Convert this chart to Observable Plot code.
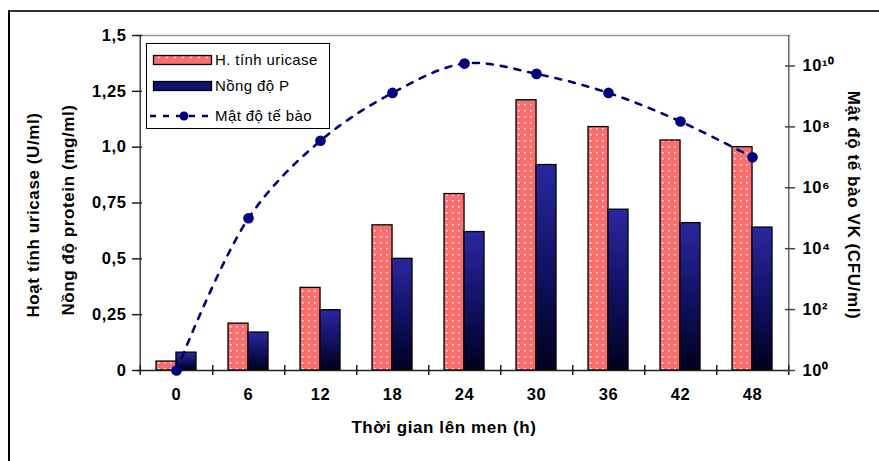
<!DOCTYPE html>
<html><head><meta charset="utf-8">
<script src="https://cdn.jsdelivr.net/npm/d3@7"></script>
<script src="https://cdn.jsdelivr.net/npm/@observablehq/plot@0.6"></script>
<style>
body{margin:0;background:#fff;font-family:"Liberation Sans",Arial,sans-serif;}
#wrap{position:relative;width:879px;height:461px;overflow:hidden;background:#fff;}
#chart{position:absolute;left:0;top:0;}
#chart text{letter-spacing:0.6px;}
#border{position:absolute;left:8px;top:10px;width:900px;height:520px;border-left:2px solid #000;border-top:2px solid #333;}
#legend{position:absolute;left:146px;top:43px;width:182px;height:84px;border:1px solid #000;background:#fff;font-size:15px;letter-spacing:0.4px;color:#000;}
#legend span{position:absolute;left:68px;white-space:nowrap;line-height:20px;}
#legend svg{position:absolute;left:0;top:0;}
</style></head><body>
<div id="wrap"><div id="border"></div><div id="chart"></div><div id="legend"></div></div>
<script>
// ---- data ----
const times = ["0", "6", "12", "18", "24", "30", "36", "42", "48"];
const uricase = [0.04, 0.21, 0.37, 0.65, 0.79, 1.21, 1.09, 1.03, 1.00];     // U/ml
const protein = [0.08, 0.17, 0.27, 0.50, 0.62, 0.92, 0.72, 0.66, 0.64];     // mg/ml
const cellDensity = [1, 1e5, 3.5e7, 1.3e9, 1.2e10, 5.5e9, 1.3e9, 1.5e8, 1e7]; // CFU/ml
const leftTicks = [0, 0.25, 0.5, 0.75, 1.0, 1.25, 1.5];
const leftTickLabels = ["0", "0,25", "0,5", "0,75", "1,0", "1,25", "1,5"];
const rightTickExps = [0, 2, 4, 6, 8, 10];
const rightMaxExp = 11;
const leftMax = 1.5;
const seriesNames = ["H. tính uricase", "Nồng độ P", "Mật độ tế bào"];
const xTitle = "Thời gian lên men (h)";
const yTitle1 = "Hoạt tính uricase (U/ml)";
const yTitle2 = "Nồng độ protein (mg/ml)";
const yTitleRight = "Mật độ tế bào VK (CFU/ml)";

// ---- layout ----
const W = 879, H = 461, ML = 137, MR = 89, MT = 35, MB = 91;
const plotW = W - ML - MR;
const step = plotW / times.length;
const padIn = 0.45, padOut = 0.225;
const bw = step * (1 - padIn);

const sup = {"0":"⁰","1":"¹","2":"²","3":"³","4":"⁴","5":"⁵","6":"⁶","7":"⁷","8":"⁸","9":"⁹"};
const supStr = n => String(n).split("").map(c => sup[c]).join("");
const toLeft = e => e * leftMax / rightMaxExp;

const rows = times.map((t, i) => ({t, u: uricase[i], p: protein[i], c: cellDensity[i]}));
const rightTicks = rightTickExps.map(toLeft);

const font = "'Liberation Sans', Arial, sans-serif";
const tickFS = 16.5, titleFS = 17;

const svg = Plot.plot({
  width: W, height: H,
  marginLeft: ML, marginRight: MR, marginTop: MT, marginBottom: MB,
  style: {fontFamily: font, fontSize: "16px", fontWeight: "bold", color: "#000", background: "transparent"},
  x: {type: "band", domain: times, paddingInner: padIn, paddingOuter: padOut, axis: null},
  y: {domain: [0, leftMax], axis: null},
  marks: [
    Plot.ruleY([leftMax], {stroke: "#999", strokeWidth: 1.5}),
    Plot.barY(rows, {x: "t", y: "u", fill: "url(#dots)", stroke: "#000", strokeWidth: 1.3, insetRight: bw / 2}),
    Plot.barY(rows, {x: "t", y: "p", fill: "url(#navygrad)", stroke: "#000", strokeWidth: 1.3, insetLeft: bw / 2}),
    Plot.ruleY([0], {stroke: "#222", strokeWidth: 1.5}),
    Plot.ruleX([times[0]], {y1: 0, y2: leftMax, dx: -step / 2, stroke: "#444", strokeWidth: 1.5}),
    Plot.ruleX([times[times.length - 1]], {y1: 0, y2: leftMax, dx: step / 2, stroke: "#666", strokeWidth: 1.5}),
    Plot.ruleX(times, {y1: 0, y2: 0, dx: step / 2, insetTop: -5, insetBottom: -5, stroke: "#222", strokeWidth: 1.5}),
    Plot.ruleX([times[0]], {y1: 0, y2: 0, dx: -step / 2, insetTop: -5, insetBottom: -5, stroke: "#222", strokeWidth: 1.5}),
    Plot.ruleY(leftTicks, {insetLeft: -5, insetRight: plotW - 5, stroke: "#222", strokeWidth: 1.5}),
    Plot.ruleY(rightTicks, {insetLeft: plotW - 5, insetRight: -5, stroke: "#444", strokeWidth: 1.5}),
    Plot.axisY({ticks: leftTicks, tickSize: 0, tickPadding: 11, tickFormat: d => leftTickLabels[leftTicks.indexOf(d)], fontSize: tickFS, fontWeight: "bold"}),
    Plot.axisY({anchor: "right", ticks: rightTicks, tickSize: 0, tickPadding: 12, tickFormat: d => "10" + supStr(rightTickExps[rightTicks.indexOf(d)]), fontSize: tickFS, fontWeight: "bold"}),
    Plot.axisX({tickSize: 0, tickPadding: 18, fontSize: tickFS, fontWeight: "bold", label: null}),
    Plot.line(rows, {x: "t", y: d => toLeft(Math.log10(d.c)), stroke: "#000080", strokeWidth: 2.6, strokeDasharray: "6,8", curve: "catmull-rom"}),
    Plot.dot(rows, {x: "t", y: d => toLeft(Math.log10(d.c)), r: 4.6, fill: "#000080", stroke: "#000080"}),
    Plot.text([xTitle], {frameAnchor: "bottom", textAnchor: "middle", dx: -20, dy: 62, fontSize: titleFS, fontWeight: "bold"}),
    Plot.text([yTitle1], {frameAnchor: "left", textAnchor: "middle", rotate: -90, dx: -104, dy: 12, fontSize: titleFS, fontWeight: "bold"}),
    Plot.text([yTitle2], {frameAnchor: "left", textAnchor: "middle", rotate: -90, dx: -69, dy: 7, fontSize: titleFS, fontWeight: "bold"}),
    Plot.text([yTitleRight], {frameAnchor: "right", textAnchor: "middle", rotate: 90, dx: 63, dy: 2, fontSize: titleFS, fontWeight: "bold"})
  ]
});

const defs = d3.select(svg).insert("defs", ":first-child");
const pat = defs.append("pattern").attr("id", "dots").attr("patternUnits", "userSpaceOnUse")
  .attr("width", 6).attr("height", 6);
pat.append("rect").attr("width", 6).attr("height", 6).attr("fill", "#fa6e6e");
pat.append("rect").attr("x", 2).attr("y", 2).attr("width", 1.6).attr("height", 1.6).attr("fill", "#ffe6e6");
const grad = defs.append("linearGradient").attr("id", "navygrad").attr("x1", 0).attr("y1", 0).attr("x2", 0).attr("y2", 1);
grad.append("stop").attr("offset", "0%").attr("stop-color", "#2828a0");
grad.append("stop").attr("offset", "55%").attr("stop-color", "#10105e");
grad.append("stop").attr("offset", "100%").attr("stop-color", "#00001e");

document.getElementById("chart").appendChild(svg);

const legend = d3.select("#legend");
const sw = legend.append("svg").attr("width", 68).attr("height", 84);
const sdefs = sw.append("defs");
const pat2 = sdefs.append("pattern").attr("id", "dots2").attr("patternUnits", "userSpaceOnUse").attr("width", 8).attr("height", 9);
pat2.append("rect").attr("width", 8).attr("height", 9).attr("fill", "#fa6e6e");
pat2.append("rect").attr("x", 3).attr("y", 3.5).attr("width", 1.6).attr("height", 1.6).attr("fill", "#ffe6e6");
sw.append("rect").attr("x", 6.5).attr("y", 11.5).attr("width", 58).attr("height", 9).attr("fill", "url(#dots2)").attr("stroke", "#000").attr("stroke-width", 1.3);
sw.append("rect").attr("x", 6.5).attr("y", 37.5).attr("width", 58).attr("height", 9).attr("fill", "#10106e").attr("stroke", "#000").attr("stroke-width", 1.3);
sw.append("line").attr("x1", 3).attr("x2", 66).attr("y1", 72).attr("y2", 72).attr("stroke", "#000080").attr("stroke-width", 2.6).attr("stroke-dasharray", "6,7");
sw.append("circle").attr("cx", 37).attr("cy", 72).attr("r", 4.5).attr("fill", "#000080");
const tops = [6, 32, 62];
seriesNames.forEach((n, i) => legend.append("span").style("top", tops[i] + "px").text(n));
</script>
</body></html>
